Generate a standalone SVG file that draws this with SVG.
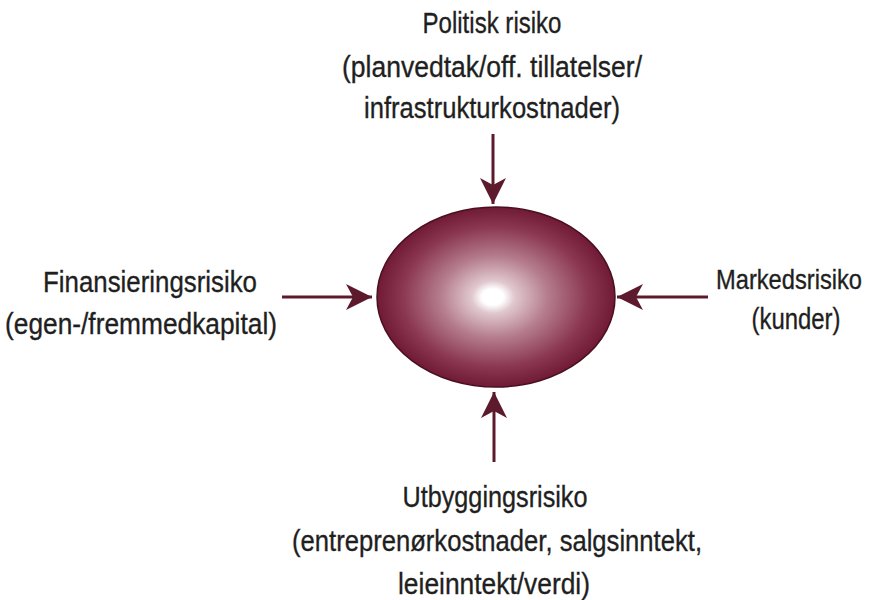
<svg xmlns="http://www.w3.org/2000/svg" width="873" height="600" viewBox="0 0 873 600">
  <style>
    .lbl { font-family: "Liberation Sans Narrow", "Liberation Sans", Arial, sans-serif; font-size: 30px; fill: #1f1f1f; stroke: #1f1f1f; stroke-width: 0.35; text-anchor: middle; }
    .edge { font-size: 28px; }
    .conn { stroke: #5c1a2c; stroke-width: 3; fill: none; marker-end: url(#head); }
  </style>
  <defs>
    <radialGradient id="core" cx="0.5" cy="0.5" r="0.5" fx="0.485" fy="0.5">
      <stop offset="0" stop-color="#ffffff"/>
      <stop offset="0.09" stop-color="#ffffff"/>
      <stop offset="0.18" stop-color="#e0c8cf"/>
      <stop offset="0.45" stop-color="#b57d8e"/>
      <stop offset="0.78" stop-color="#8b3752"/>
      <stop offset="1" stop-color="#701a35"/>
    </radialGradient>
    <marker id="head" markerUnits="userSpaceOnUse" viewBox="-27 -14 28 28" refX="0" refY="0" markerWidth="28" markerHeight="28" orient="auto">
      <path d="M0,0 L-26,-13 L-19,0 L-26,13 Z" fill="#5c1a2c"/>
    </marker>
  </defs>

  <rect width="873" height="600" fill="#ffffff"/>

  <!-- central risk body -->
  <g id="center">
    <ellipse cx="496" cy="297" rx="119" ry="90" fill="url(#core)" stroke="#4a1022" stroke-width="1.5"/>
  </g>

  <!-- arrows pointing at the centre -->
  <g id="connectors">
    <line class="conn" x1="282" y1="297" x2="372" y2="297"/>
    <line class="conn" x1="708" y1="297" x2="617" y2="297"/>
    <line class="conn" x1="493" y1="134" x2="493" y2="204"/>
    <line class="conn" x1="494" y1="462" x2="494" y2="392"/>
  </g>

  <g id="politisk">
    <text class="lbl" x="492" y="33" textLength="139" lengthAdjust="spacingAndGlyphs">Politisk risiko</text>
    <text class="lbl" x="492" y="77" textLength="300" lengthAdjust="spacingAndGlyphs">(planvedtak/off. tillatelser/</text>
    <text class="lbl" x="492" y="118" textLength="256" lengthAdjust="spacingAndGlyphs">infrastrukturkostnader)</text>
  </g>

  <g id="finansiering">
    <text class="lbl" x="150" y="292" textLength="214" lengthAdjust="spacingAndGlyphs">Finansieringsrisiko</text>
    <text class="lbl" x="141" y="334" textLength="272" lengthAdjust="spacingAndGlyphs">(egen-/fremmedkapital)</text>
  </g>

  <g id="marked">
    <text class="lbl edge" x="789" y="289" textLength="146" lengthAdjust="spacingAndGlyphs">Markedsrisiko</text>
    <text class="lbl" x="796" y="329" textLength="89" lengthAdjust="spacingAndGlyphs">(kunder)</text>
  </g>

  <g id="utbygging">
    <text class="lbl" x="495" y="507" textLength="185" lengthAdjust="spacingAndGlyphs">Utbyggingsrisiko</text>
    <text class="lbl" x="497" y="551" textLength="410" lengthAdjust="spacingAndGlyphs">(entreprenørkostnader, salgsinntekt,</text>
    <text class="lbl" x="494" y="594" textLength="192" lengthAdjust="spacingAndGlyphs">leieinntekt/verdi)</text>
  </g>
</svg>
